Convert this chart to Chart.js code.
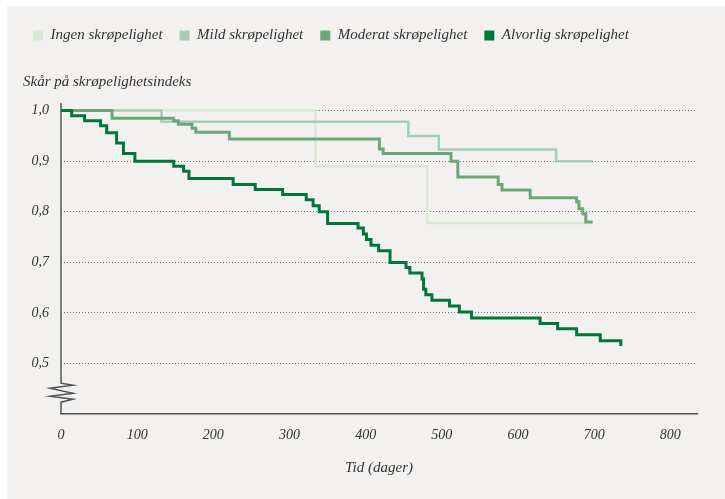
<!DOCTYPE html>
<html>
<head>
<meta charset="utf-8">
<script src="https://cdn.jsdelivr.net/npm/chart.js@4/dist/chart.umd.min.js"></script>
<style>
  html, body { margin: 0; padding: 0; background: #fff; }
  #panel { position: absolute; left: 7px; top: 6px; width: 718px; height: 493px; background: #f2f1ef; }
</style>
</head>
<body>
<div id="panel"><canvas id="kmChart" width="718" height="493"></canvas></div>
<script>
// serier: tid (dager) og skår ved hvert trinn
const serier = ["Ingen skrøpelighet", "Mild skrøpelighet", "Moderat skrøpelighet", "Alvorlig skrøpelighet"];

const ingenDager = [0, 334, 481, 698];
const ingenSkaar = [1.0, 0.89, 0.778, 0.778];

const mildDager = [0, 132, 456, 496, 650, 698];
const mildSkaar = [1.0, 0.978, 0.95, 0.923, 0.90, 0.90];

const moderatDager = [0, 67, 148, 154, 172, 177, 221, 418, 423, 512, 521, 574, 579, 616, 677, 680, 685, 689, 698];
const moderatSkaar = [1.0, 0.985, 0.98, 0.973, 0.965, 0.957, 0.944, 0.924, 0.915, 0.90, 0.869, 0.854, 0.843, 0.828, 0.82, 0.806, 0.796, 0.78, 0.78];

const alvorligDager = [0, 14, 31, 52, 60, 73, 82, 97, 148, 161, 168, 226, 255, 291, 322, 331, 339, 350, 390, 397, 401, 407, 417, 432, 453, 458, 474, 476, 479, 487, 510, 523, 539, 629, 652, 677, 708, 735];
const alvorligSkaar = [1.0, 0.99, 0.98, 0.97, 0.956, 0.936, 0.915, 0.90, 0.89, 0.88, 0.866, 0.854, 0.844, 0.834, 0.824, 0.812, 0.80, 0.777, 0.768, 0.756, 0.745, 0.734, 0.723, 0.70, 0.69, 0.679, 0.667, 0.647, 0.636, 0.625, 0.614, 0.602, 0.59, 0.579, 0.569, 0.557, 0.545, 0.535];

const xTicks = [0, 100, 200, 300, 400, 500, 600, 700, 800];
const yTicks = [0.5, 0.6, 0.7, 0.8, 0.9, 1.0];

const farger = ["#d9e8d3", "#a7cdb6", "#6ba877", "#00763b"];
const font = "'Liberation Serif', 'DejaVu Serif', serif";

function punkter(dager, skaar) {
    return dager.map((d, i) => ({x: d, y: skaar[i]}));
}

// ekstra luft under legenden (plass til aksetittelen)
const legendeLuft = {
    id: 'legendeLuft',
    beforeLayout(chart) {
        const lg = chart.legend;
        if (lg && !lg._luft) {
            const fit = lg.fit;
            lg.fit = function () { fit.call(this); this.height += 50; };
            lg._luft = true;
        }
    }
};

// y-akse med brudd (sikksakk) og aksetittel øverst
const aksePlugin = {
    id: 'akse',
    afterDraw(chart) {
        const c = chart.ctx, a = chart.chartArea;
        const x = a.left, yb = chart.scales.y;
        const y0 = yb.getPixelForValue(0.4);
        c.save();
        c.strokeStyle = '#555';
        c.lineWidth = 1.5;
        c.beginPath();
        c.moveTo(x, a.top);
        c.lineTo(x, y0 - 31);
        c.lineTo(x + 12, y0 - 29);
        c.lineTo(x - 11, y0 - 26);
        c.lineTo(x + 12, y0 - 21);
        c.lineTo(x - 11, y0 - 18);
        c.lineTo(x + 12, y0 - 15);
        c.lineTo(x, y0 - 12);
        c.lineTo(x, y0);
        c.stroke();
        c.fillStyle = '#333';
        c.font = "italic 15px " + font;
        c.textBaseline = 'middle';
        c.textAlign = 'left';
        c.fillText("Skår på skrøpelighetsindeks", x - 38, a.top - 21);
        c.restore();
    }
};

const data = {
    datasets: [
        {label: serier[3], data: punkter(alvorligDager, alvorligSkaar), borderColor: farger[3], backgroundColor: farger[3], borderWidth: 3, order: 0},
        {label: serier[2], data: punkter(moderatDager, moderatSkaar), borderColor: farger[2], backgroundColor: farger[2], borderWidth: 3, order: 1},
        {label: serier[1], data: punkter(mildDager, mildSkaar), borderColor: farger[1], backgroundColor: farger[1], borderWidth: 2.5, order: 2},
        {label: serier[0], data: punkter(ingenDager, ingenSkaar), borderColor: farger[0], backgroundColor: farger[0], borderWidth: 2.5, order: 3}
    ]
};

new Chart(document.getElementById("kmChart"), {
    type: 'line',
    data: data,
    options: {
        responsive: false,
        animation: false,
        elements: {point: {radius: 0}, line: {stepped: 'before'}},
        layout: {padding: {left: 9, right: 28, top: 5, bottom: 22}},
        plugins: {
            tooltip: {enabled: false},
            legend: {
                align: 'start',
                labels: {
                    boxWidth: 10,
                    boxHeight: 10,
                    padding: 17,
                    color: '#333',
                    font: {family: font, size: 15, style: 'italic'},
                    sort: (a, b) => b.datasetIndex - a.datasetIndex,
                    generateLabels: (chart) => Chart.defaults.plugins.legend.labels.generateLabels(chart)
                        .map(l => Object.assign(l, {lineWidth: 0}))
                }
            }
        },
        scales: {
            x: {
                type: 'linear',
                min: 0,
                max: 835,
                grid: {display: false, drawTicks: false},
                border: {color: '#555', width: 1.5},
                afterBuildTicks: (s) => { s.ticks = xTicks.map(v => ({value: v})); },
                ticks: {padding: 13, color: '#333', font: {family: font, size: 14, style: 'italic'}},
                title: {display: true, text: 'Tid (dager)', color: '#333', padding: {top: 2, bottom: 0},
                        font: {family: font, size: 15, style: 'italic'}}
            },
            y: {
                min: 0.4,
                max: 1.015,
                afterFit: (s) => { s.width = 45; },
                afterBuildTicks: (s) => { s.ticks = yTicks.map(v => ({value: v})); },
                grid: {color: '#777', drawTicks: false},
                border: {display: false, dash: [1, 2]},
                ticks: {padding: 12, color: '#333', font: {family: font, size: 14, style: 'italic'},
                        callback: (v) => v.toFixed(1).replace('.', ',')}
            }
        }
    },
    plugins: [legendeLuft, aksePlugin]
});
</script>
</body>
</html>
